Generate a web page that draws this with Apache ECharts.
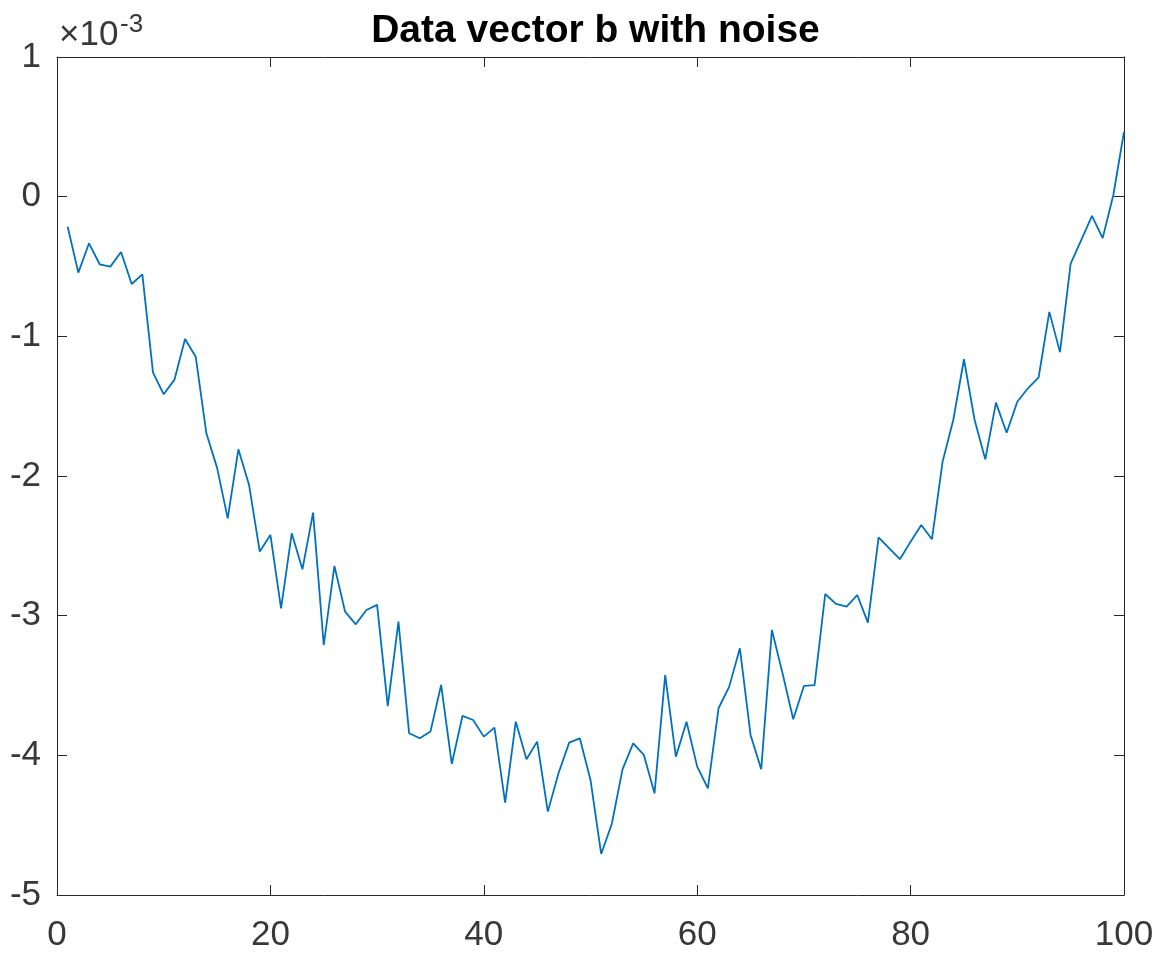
<!DOCTYPE html>
<html>
<head>
<meta charset="utf-8">
<script src="https://cdn.jsdelivr.net/npm/echarts@6/dist/echarts.min.js"></script>
<style>
html,body{margin:0;padding:0;background:#fff;}
#chart{width:1162px;height:959px;}
</style>
</head>
<body>
<div id="chart"></div>
<script>
// sample index (1..100)
const sampleIndex = Array.from({length: 100}, (_, i) => i + 1);
// b values in units of 1e-3
const bValues = [
  -0.215, -0.544, -0.334, -0.484, -0.501, -0.396, -0.625, -0.556, -1.260, -1.415,
  -1.312, -1.019, -1.146, -1.694, -1.940, -2.303, -1.809, -2.064, -2.541, -2.422,
  -2.947, -2.410, -2.668, -2.262, -3.210, -2.644, -2.971, -3.062, -2.959, -2.923,
  -3.647, -3.043, -3.842, -3.878, -3.830, -3.496, -4.062, -3.718, -3.747, -3.866,
  -3.802, -4.339, -3.759, -4.028, -3.902, -4.403, -4.128, -3.909, -3.878, -4.176,
  -4.706, -4.490, -4.100, -3.914, -3.997, -4.272, -3.425, -4.010, -3.759, -4.081,
  -4.236, -3.663, -3.508, -3.234, -3.854, -4.100, -3.102, -3.413, -3.742, -3.503,
  -3.498, -2.845, -2.916, -2.935, -2.852, -3.050, -2.439, -2.518, -2.596, -2.470,
  -2.351, -2.453, -1.897, -1.599, -1.164, -1.599, -1.881, -1.475, -1.690, -1.468,
  -1.372, -1.293, -0.825, -1.113, -0.480, -0.310, -0.138, -0.297,  0.012,  0.464
];
const titleText = 'Data vector b with noise';
const exponentBase = '×10';
const exponentPower = '-3';
const xTicks = [0, 20, 40, 60, 80, 100];
const yTicks = [-5, -4, -3, -2, -1, 0, 1];

const axisColor = '#262626';
const labelColor = '#383838';
const fontFam = '"Liberation Sans", Arial, Helvetica, sans-serif';

const chart = echarts.init(document.getElementById('chart'), null, {renderer: 'canvas'});
const data = sampleIndex.map((x, i) => [x, bValues[i]]);

function xAxisCfg(pos, showLabel) {
  return {
    type: 'value', position: pos,
    min: xTicks[0], max: xTicks[xTicks.length - 1], interval: xTicks[1] - xTicks[0],
    axisLine: {show: true, onZero: false, lineStyle: {color: axisColor, width: 1}},
    axisTick: {show: true, inside: true, length: 10, lineStyle: {color: axisColor, width: 1}},
    axisLabel: {show: showLabel, color: labelColor, fontSize: 35, fontFamily: fontFam, margin: 23},
    splitLine: {show: false}
  };
}
function yAxisCfg(pos, showLabel) {
  return {
    type: 'value', position: pos,
    min: yTicks[0], max: yTicks[yTicks.length - 1], interval: yTicks[1] - yTicks[0],
    axisLine: {show: true, onZero: false, lineStyle: {color: axisColor, width: 1}},
    axisTick: {show: true, inside: true, length: 10, lineStyle: {color: axisColor, width: 1}},
    axisLabel: {show: showLabel, color: labelColor, fontSize: 35, fontFamily: fontFam, margin: 16},
    splitLine: {show: false}
  };
}

chart.setOption({
  backgroundColor: '#ffffff',
  animation: false,
  title: {
    text: titleText, left: 590.5, textAlign: 'center', top: 7,
    textStyle: {fontSize: 39, fontWeight: 'bold', color: '#000', fontFamily: fontFam}
  },
  grid: {left: 57, right: 38, top: 57, bottom: 64, containLabel: false},
  xAxis: [xAxisCfg('bottom', true), xAxisCfg('top', false)],
  yAxis: [yAxisCfg('left', true), yAxisCfg('right', false)],
  graphic: [
    {type: 'text', left: 59, top: 18, style: {text: exponentBase, fontSize: 35, fill: labelColor, fontFamily: fontFam}},
    {type: 'text', left: 120, top: 12, style: {text: exponentPower, fontSize: 26, fill: labelColor, fontFamily: fontFam}}
  ],
  series: [{
    type: 'line', data: data, xAxisIndex: 0, yAxisIndex: 0,
    showSymbol: false, symbol: 'none',
    lineStyle: {color: '#0072BD', width: 1.8}
  }]
});
</script>
</body>
</html>
